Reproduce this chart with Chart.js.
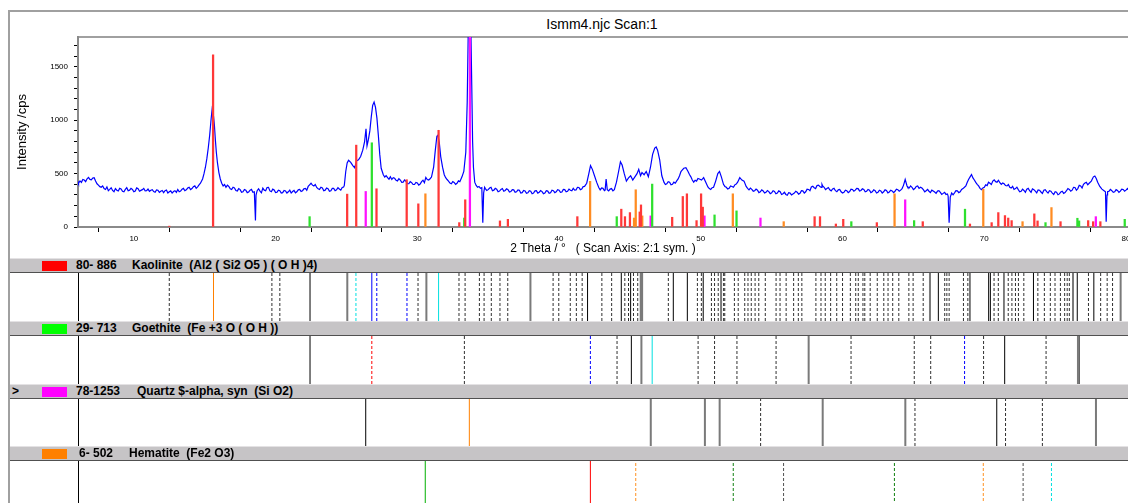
<!DOCTYPE html>
<html>
<head>
<meta charset="utf-8">
<script src="https://cdn.jsdelivr.net/npm/chart.js@4.4.0/dist/chart.umd.min.js"></script>
<style>
body { margin: 0; width: 1128px; height: 503px; overflow: hidden; background: #fff; position: relative; font-family: "Liberation Sans", Arial, sans-serif; }
.abs { position: absolute; }
.hdr { position: absolute; left: 10px; width: 1118px; height: 13px; background: #c6c4c6; border-top: 1px solid #e4e2e4; border-bottom: 1px solid #505050; }
.hdr span { position: absolute; top: 0; font-weight: bold; font-size: 12px; line-height: 13px; white-space: pre; color: #000; }
.hdr .sw { top: 2px; width: 25px; height: 10px; left: 32px; }
.row { position: absolute; left: 10px; width: 1118px; border-bottom: 1px solid #000; }
.vline { position: absolute; left: 68px; top: 0; width: 1px; height: 100%; background: #000; }
.row canvas { position: absolute; left: 68px; top: 0; }
</style>
</head>
<body>

<div class="abs" style="left:8px;top:10px;width:2px;height:493px;background:#a0a0a0"></div>
<div class="abs" style="left:8px;top:10px;width:1120px;height:2px;background:#a0a0a0"></div>
<div class="abs" style="left:78px;top:36px;width:1050px;height:2px;background:#a0a0a0"></div>
<div class="abs" style="left:502px;top:16px;width:200px;text-align:center;font-size:14px;line-height:16px">Ismm4.njc Scan:1</div>
<canvas id="main" class="abs" style="left:10px;top:12px" width="1118" height="246"></canvas>

<div class="hdr" style="top:258px"><span class="sw" style="background:#ff0000"></span><span style="left:66px">80- 886</span><span style="left:122px">Kaolinite  (Al2 ( Si2 O5 ) ( O H )4)</span></div>
<div class="row" style="top:273px;height:48px"><canvas id="p1" width="1050" height="48"></canvas><div class="vline"></div></div>

<div class="hdr" style="top:321px"><span class="sw" style="background:#00ff00"></span><span style="left:66px">29- 713</span><span style="left:122px">Goethite  (Fe +3 O ( O H ))</span></div>
<div class="row" style="top:336px;height:48px"><canvas id="p2" width="1050" height="48"></canvas><div class="vline"></div></div>

<div class="hdr" style="top:384px"><span style="left:2px">&gt;</span><span class="sw" style="background:#ff00ff"></span><span style="left:66px">78-1253</span><span style="left:127px">Quartz $-alpha, syn  (Si O2)</span></div>
<div class="row" style="top:399px;height:47px"><canvas id="p3" width="1050" height="47"></canvas><div class="vline"></div></div>

<div class="hdr" style="top:446px"><span class="sw" style="background:#ff8000"></span><span style="left:69px">6- 502</span><span style="left:119px">Hematite  (Fe2 O3)</span></div>
<div class="row" style="top:461px;height:50px"><canvas id="p4" width="1050" height="50"></canvas><div class="vline"></div></div>

<script>
let thetaMin = 6.06;
let thetaMax = 80.14;

// measured scan, [2theta, cps]
let scanPoints = [
    [6.06,427],[6.1,410],[6.2,432],[6.3,418],[6.4,445],[6.5,440],[6.6,425],[6.7,452],[6.8,465],[6.9,446],
    [7.0,442],[7.1,458],[7.2,462],[7.3,430],[7.4,405],[7.5,392],[7.6,378],[7.7,372],[7.8,385],[7.9,360],
    [8.0,352],[8.1,376],[8.2,340],[8.3,352],[8.4,368],[8.5,342],[8.6,330],[8.7,360],[8.8,345],[8.9,338],
    [9.0,362],[9.1,356],[9.2,335],[9.3,330],[9.4,352],[9.5,368],[9.6,340],[9.7,345],[9.8,362],[9.9,352],
    [10.0,330],[10.1,337],[10.2,366],[10.3,358],[10.4,335],[10.5,343],[10.6,350],[10.7,362],[10.8,338],[10.9,340],
    [11.0,355],[11.1,334],[11.2,345],[11.3,350],[11.4,332],[11.5,326],[11.6,348],[11.7,344],[11.8,325],[11.9,335],
    [12.0,342],[12.1,322],[12.2,340],[12.3,346],[12.4,318],[12.5,330],[12.6,338],[12.7,318],[12.8,332],[12.9,340],
    [13.0,325],[13.1,352],[13.2,330],[13.3,336],[13.4,355],[13.5,362],[13.6,340],[13.7,348],[13.8,365],[13.9,372],
    [14.0,350],[14.1,360],[14.2,378],[14.3,385],[14.4,362],[14.5,376],[14.6,395],[14.7,410],[14.85,450],[14.95,500],
    [15.05,560],[15.15,640],[15.25,740],[15.35,860],[15.45,1010],[15.52,1100],[15.58,1060],[15.62,1040],[15.68,960],[15.75,820],
    [15.82,700],[15.9,600],[16.0,510],[16.1,450],[16.2,410],[16.3,385],[16.4,398],[16.5,372],[16.6,392],[16.7,380],
    [16.8,358],[16.9,352],[17.0,372],[17.1,366],[17.2,342],[17.3,338],[17.4,360],[17.5,350],[17.6,325],[17.7,330],
    [17.8,352],[17.9,345],[18.0,322],[18.1,328],[18.2,345],[18.3,352],[18.4,326],[18.5,330],[18.58,60],[18.62,300],
    [18.7,340],[18.8,358],[18.9,336],[19.0,320],[19.1,364],[19.2,345],[19.3,340],[19.4,370],[19.5,372],[19.6,338],
    [19.7,330],[19.8,355],[19.9,348],[20.0,322],[20.1,326],[20.2,345],[20.3,340],[20.4,318],[20.5,322],[20.6,342],
    [20.7,338],[20.8,318],[20.9,330],[21.0,345],[21.1,318],[21.2,332],[21.3,342],[21.4,320],[21.5,330],[21.6,348],
    [21.7,352],[21.8,332],[21.9,340],[22.0,358],[22.1,362],[22.2,345],[22.3,380],[22.4,395],[22.5,410],[22.6,392],
    [22.7,385],[22.8,398],[22.9,370],[23.0,358],[23.1,352],[23.2,372],[23.3,366],[23.4,340],[23.5,345],[23.6,365],
    [23.7,358],[23.8,335],[23.9,340],[24.0,362],[24.1,362],[24.2,340],[24.3,348],[24.4,368],[24.5,356],[24.6,345],
    [24.7,370],[24.8,375],[24.85,390],[24.95,520],[25.05,600],[25.15,625],[25.3,605],[25.45,575],[25.58,555],[25.72,620],
    [25.85,630],[26.0,660],[26.15,720],[26.28,800],[26.38,920],[26.45,760],[26.55,820],[26.65,900],[26.75,1030],[26.85,1140],
    [26.95,1170],[27.05,1120],[27.15,1020],[27.25,860],[27.35,680],[27.45,550],[27.6,490],[27.7,468],[27.8,480],[27.9,462],
    [28.0,448],[28.1,470],[28.2,445],[28.3,462],[28.4,456],[28.5,438],[28.6,432],[28.7,452],[28.8,440],[28.9,418],
    [29.0,420],[29.1,440],[29.2,428],[29.3,405],[29.4,405],[29.5,425],[29.6,416],[29.7,398],[29.8,398],[29.9,418],
    [30.0,412],[30.1,392],[30.2,402],[30.3,425],[30.4,438],[30.5,415],[30.6,465],[30.7,445],[30.8,440],[30.9,452],
    [31.0,468],[31.15,560],[31.27,720],[31.38,850],[31.45,860],[31.55,790],[31.65,660],[31.78,560],[31.9,490],[32.0,462],
    [32.1,445],[32.2,430],[32.3,412],[32.4,405],[32.5,425],[32.6,418],[32.7,400],[32.8,410],[32.9,432],[33.0,425],
    [33.15,470],[33.28,520],[33.42,700],[33.52,1170],[33.6,1900],[33.68,2200],[33.76,2000],[33.84,1330],[33.9,800],[33.96,560],
    [34.05,420],[34.15,390],[34.25,372],[34.35,380],[34.45,362],[34.55,368],[34.62,40],[34.68,320],[34.75,372],[34.8,360],
    [34.9,342],[35.0,350],[35.1,365],[35.2,372],[35.3,340],[35.4,345],[35.5,362],[35.6,355],[35.7,330],[35.8,336],
    [35.9,352],[36.0,360],[36.1,335],[36.2,342],[36.3,358],[36.4,350],[36.5,328],[36.6,332],[36.7,350],[36.8,348],
    [36.9,325],[37.0,330],[37.1,348],[37.2,345],[37.3,318],[37.4,322],[37.5,342],[37.6,338],[37.7,315],[37.8,320],
    [37.9,340],[38.0,335],[38.1,312],[38.2,318],[38.3,338],[38.4,340],[38.5,318],[38.6,326],[38.7,342],[38.8,332],
    [38.9,312],[39.0,318],[39.1,340],[39.2,336],[39.3,315],[39.4,320],[39.5,345],[39.6,340],[39.7,322],[39.8,330],
    [39.9,350],[40.0,345],[40.1,325],[40.2,328],[40.3,352],[40.4,350],[40.5,330],[40.6,335],[40.7,355],[40.8,344],
    [40.9,340],[41.0,362],[41.1,345],[41.2,348],[41.3,372],[41.4,370],[41.5,350],[41.6,356],[41.7,378],[41.8,380],
    [41.95,410],[42.1,500],[42.22,575],[42.35,540],[42.5,480],[42.65,420],[42.8,370],[42.9,348],[43.0,365],[43.1,362],
    [43.2,340],[43.25,345],[43.32,450],[43.4,350],[43.5,338],[43.6,355],[43.7,360],[43.8,338],[43.9,350],[44.05,420],
    [44.2,520],[44.33,610],[44.45,580],[44.6,500],[44.75,430],[44.9,460],[45.05,480],[45.2,440],[45.35,470],[45.5,500],
    [45.62,540],[45.75,480],[45.85,510],[46.0,490],[46.15,520],[46.3,470],[46.45,560],[46.6,680],[46.75,740],[46.85,750],
    [46.95,720],[47.1,630],[47.25,480],[47.4,420],[47.5,398],[47.6,405],[47.7,425],[47.8,420],[47.9,395],[48.0,400],
    [48.1,420],[48.2,410],[48.3,432],[48.4,450],[48.5,480],[48.6,520],[48.7,535],[48.8,550],[48.95,555],[49.1,520],
    [49.2,492],[49.3,470],[49.4,440],[49.5,420],[49.6,438],[49.7,430],[49.8,455],[49.9,450],[50.05,440],[50.2,462],
    [50.35,420],[50.5,375],[50.6,360],[50.7,352],[50.8,368],[50.9,372],[51.05,430],[51.2,500],[51.32,520],[51.45,470],
    [51.6,400],[51.7,380],[51.8,372],[51.9,355],[52.0,362],[52.1,385],[52.2,380],[52.3,372],[52.4,395],[52.5,402],
    [52.6,420],[52.75,462],[52.9,440],[53.05,430],[53.2,380],[53.3,362],[53.4,348],[53.5,365],[53.6,352],[53.7,335],
    [53.8,340],[53.9,355],[54.0,345],[54.1,322],[54.2,330],[54.3,348],[54.4,338],[54.5,318],[54.6,325],[54.7,342],
    [54.8,332],[54.9,312],[55.0,320],[55.1,340],[55.2,334],[55.3,312],[55.4,318],[55.5,338],[55.6,330],[55.7,305],
    [55.8,312],[55.9,325],[56.0,305],[56.1,298],[56.2,322],[56.3,318],[56.4,300],[56.5,310],[56.6,318],[56.7,335],
    [56.8,326],[56.9,308],[57.0,315],[57.1,340],[57.2,338],[57.3,318],[57.4,330],[57.5,355],[57.6,352],[57.7,340],
    [57.8,375],[57.9,382],[58.0,368],[58.1,360],[58.2,388],[58.3,392],[58.4,380],[58.5,372],[58.55,400],[58.6,385],
    [58.7,372],[58.8,350],[58.9,360],[59.0,370],[59.1,348],[59.2,338],[59.3,356],[59.4,362],[59.5,340],[59.6,330],
    [59.7,348],[59.8,352],[59.9,330],[60.0,318],[60.1,325],[60.2,345],[60.3,340],[60.4,322],[60.5,332],[60.6,355],
    [60.7,352],[60.8,335],[60.9,345],[61.0,362],[61.1,360],[61.2,338],[61.3,342],[61.4,358],[61.5,352],[61.6,330],
    [61.7,335],[61.8,352],[61.9,345],[62.0,322],[62.1,330],[62.2,348],[62.3,340],[62.4,318],[62.5,325],[62.6,345],
    [62.7,338],[62.8,318],[62.9,330],[63.0,348],[63.1,342],[63.2,320],[63.3,328],[63.4,345],[63.5,338],[63.6,322],
    [63.7,335],[63.8,355],[63.9,350],[64.0,335],[64.1,345],[64.2,360],[64.3,390],[64.42,445],[64.55,385],[64.6,372],
    [64.7,365],[64.8,385],[64.9,372],[65.0,350],[65.1,360],[65.2,380],[65.3,385],[65.4,362],[65.5,372],[65.6,365],
    [65.7,350],[65.8,330],[65.9,340],[66.0,352],[66.1,335],[66.2,322],[66.3,345],[66.4,338],[66.5,328],[66.6,315],
    [66.7,336],[66.8,340],[66.9,325],[67.0,305],[67.1,315],[67.2,325],[67.3,305],[67.4,310],[67.45,290],[67.52,40],
    [67.6,280],[67.7,318],[67.8,302],[67.9,320],[68.0,340],[68.1,338],[68.2,322],[68.3,330],[68.4,352],[68.5,360],
    [68.6,372],[68.7,385],[68.8,420],[68.9,448],[69.0,470],[69.1,492],[69.2,460],[69.3,440],[69.4,418],[69.5,400],
    [69.6,385],[69.7,362],[69.8,350],[69.9,365],[70.0,372],[70.1,395],[70.2,388],[70.3,420],[70.4,410],[70.5,398],
    [70.6,430],[70.7,442],[70.8,425],[70.9,420],[71.0,438],[71.1,415],[71.2,400],[71.3,412],[71.4,405],[71.5,388],
    [71.6,385],[71.7,398],[71.8,372],[71.9,365],[72.0,380],[72.1,352],[72.2,360],[72.3,372],[72.4,350],[72.5,330],
    [72.6,335],[72.7,355],[72.8,342],[72.9,325],[73.0,355],[73.1,362],[73.2,340],[73.3,325],[73.4,358],[73.5,350],
    [73.6,336],[73.7,320],[73.8,348],[73.9,345],[74.0,328],[74.1,315],[74.2,345],[74.3,350],[74.4,332],[74.5,318],
    [74.6,340],[74.7,335],[74.8,318],[74.9,305],[75.0,330],[75.1,325],[75.2,302],[75.3,310],[75.4,328],[75.5,335],
    [75.6,315],[75.7,322],[75.8,340],[75.9,360],[76.0,352],[76.1,335],[76.2,345],[76.3,372],[76.4,370],[76.5,345],
    [76.6,360],[76.7,390],[76.8,385],[76.9,365],[77.0,400],[77.1,412],[77.2,418],[77.3,395],[77.4,410],[77.55,430],
    [77.7,470],[77.8,478],[77.9,455],[78.0,420],[78.15,380],[78.3,355],[78.45,340],[78.55,330],[78.6,50],[78.66,300],
    [78.7,330],[78.8,335],[78.9,352],[79.0,340],[79.1,325],[79.2,330],[79.3,350],[79.4,342],[79.5,325],[79.6,336],
    [79.7,355],[79.8,352],[79.9,335],[80.0,345],[80.1,360],[80.14,350]
];

// reference sticks, [2theta, cps]
let kaoliniteSticks = [
    [12.5,8],[15.59,1613],[25.05,308],[25.69,767],[27.12,358],[29.25,443],[30.07,217],[31.5,906],[32.96,41],[33.38,255],
    [35.83,57],[36.39,72],[41.29,97],[44.39,167],[44.65,97],[45.0,135],[45.69,141],[45.78,207],[47.98,91],[48.73,286],
    [49.02,311],[49.7,60],[50.02,311],[50.14,186],[58.03,97],[58.41,97],[59.53,28],[60.05,72],[62.42,41],[65.66,50],
    [68.99,28],[70.52,41],[70.99,135],[71.46,107],[71.69,84],[71.93,60],[73.53,123],[73.76,57],[75.38,50],[77.33,60],
    [77.68,50],[78.19,50]
];
let goethiteSticks = [
    [22.4,97],[26.79,789],[33.31,84],[44.07,97],[46.57,402],[50.97,113],[52.52,151],[60.62,50],[65.05,60],[68.64,167],
    [74.32,41],[76.57,82],[76.69,57],[79.91,72]
];
let quartzSticks = [
    [26.36,333],[33.71,1900],[46.46,104],[50.26,104],[54.21,84],[64.42,255],[77.87,97]
];
let hematiteSticks = [
    [30.57,311],[42.19,428],[45.29,84],[45.41,349],[45.87,104],[52.26,311],[55.85,50],[63.67,311],[69.93,355],[72.7,50],
    [74.74,182]
];

// line positions in the reference panels (2theta)
let kaolRefSolid = [22.43,42.01,44.39,45.05,48.06,49.05,50.17,66.76,68.99,70.31,70.43,71.39,73.47,76.56,77.73];
let kaolRefGray = [25.06,30.64,37.98,45.76,45.86,51.43,66.17,76.26,79.62];
let kaolRefDashed = [12.5,19.74,20.3,30.05,32.94,33.37,34.38,34.71,35.22,35.83,36.38,39.58,39.98,40.79,41.22,41.63,
    43.02,43.71,44.64,44.9,45.25,45.55,47.71,49.76,50.04,50.75,50.97,51.23,51.61,51.69,52.37,52.64,53.1,53.33,53.56,
    53.83,54.09,54.55,55.31,55.59,56.02,56.55,56.88,57.13,58.12,58.48,58.78,59.16,59.59,60.0,60.55,60.93,61.11,61.44,
    61.57,61.95,62.45,62.91,63.21,63.54,63.97,64.68,64.98,65.69,67.21,67.36,67.52,68.53,68.84,70.69,70.99,71.69,71.95,
    72.2,72.41,72.79,73.78,74.24,74.66,74.99,75.37,75.67,75.85,76.0,77.35,78.21,78.67,79.05];
let kaolRefOrange = [15.62];
let kaolRefCyanDashed = [25.67];
let kaolRefBlue = [26.79];
let kaolRefBlueDashed = [27.14,29.27];
let kaolRefCyan = [31.5];

let goeRefSolid = [22.43,45.1,71.44,76.69];
let goeRefGray = [45.81,57.61,76.61];
let goeRefDashed = [33.32,44.09,49.81,50.97,52.55,55.31,60.6,65.06,66.22,69.95,74.36];
let goeRefRedDashed = [26.79];
let goeRefBlueDashed = [42.21,68.61];
let goeRefCyan = [46.57];

let qtzRefSolid = [26.36,70.88];
let qtzRefGray = [46.47,50.29,51.33,58.6,64.43,77.88];
let qtzRefDashed = [54.22,65.11,71.5,74.1];
let qtzRefOrange = [33.67];

let hemRefGreen = [30.56];
let hemRefRed = [42.21];
let hemRefOrangeDashed = [45.41,69.93];
let hemRefDarkGreenDashed = [52.29,63.66];
let hemRefGrayDashed = [55.84,72.74];
let hemRefCyanDashed = [74.74];


function stickSet(points, color) {
    return {
        type: "bar",
        data: points.map(p => ({ x: p[0], y: p[1] })),
        backgroundColor: color,
        barThickness: 1.6,
        grouped: false,
        order: 1
    };
}

function drawMain() {
    let ctx = document.getElementById("main").getContext("2d");

    new Chart(ctx, {
        type: "bar",
        data: {
            datasets: [
                {
                    type: "line",
                    data: scanPoints.map(p => ({ x: p[0], y: p[1] })),
                    borderColor: "#0000ff",
                    borderWidth: 1.2,
                    pointRadius: 0,
                    tension: 0,
                    order: 2
                },
                stickSet(kaoliniteSticks, "#ff3838"),
                stickSet(goethiteSticks, "#2ee02e"),
                stickSet(quartzSticks, "#ff10ff"),
                stickSet(hematiteSticks, "#ff8c22")
            ]
        },
        options: {
            responsive: false,
            animation: false,
            layout: { padding: { top: 25, left: 5, right: 0, bottom: 2 } },
            plugins: { legend: { display: false }, tooltip: { enabled: false } },
            scales: {
                x: {
                    type: "linear",
                    min: thetaMin,
                    max: thetaMax,
                    offset: false,
                    grid: { drawOnChartArea: false, tickLength: 5, tickColor: "#000" },
                    border: { color: "#8a8a8a", width: 2 },
                    ticks: {
                        stepSize: 5, includeBounds: false, autoSkip: false, maxRotation: 0, padding: 2,
                        color: "#000", font: { size: 8 },
                        callback: v => (v % 10 === 0 ? v : "")
                    },
                    title: {
                        display: true, text: "2 Theta / °   ( Scan Axis: 2:1 sym. )",
                        color: "#000", font: { size: 12 }, padding: 0
                    },
                    afterFit: s => { s.height = 29; s.paddingLeft = 0; s.paddingRight = 0; }
                },
                y: {
                    min: 0,
                    max: 1780,
                    grid: { drawOnChartArea: false, tickLength: 4, tickColor: "#000" },
                    border: { color: "#8a8a8a", width: 2 },
                    ticks: {
                        stepSize: 100, includeBounds: false, autoSkip: false, padding: 6,
                        color: "#000", font: { size: 8 },
                        callback: v => (v % 500 === 0 ? v : "")
                    },
                    title: {
                        display: true, text: "Intensity /cps",
                        color: "#000", font: { size: 13 }, padding: 0
                    },
                    afterFit: s => { s.width = 63; }
                }
            }
        }
    });
}


function refLines(positions, color, width, dash) {
    let data = [];
    positions.forEach(v => {
        data.push({ x: v, y: 0 }, { x: v, y: 1 }, { x: v, y: null });
    });
    return {
        data,
        borderColor: color,
        borderWidth: width,
        borderDash: dash || [],
        pointRadius: 0,
        spanGaps: false
    };
}

function drawPanel(id, datasets) {
    let ctx = document.getElementById(id).getContext("2d");

    new Chart(ctx, {
        type: "line",
        data: { datasets },
        options: {
            responsive: false,
            animation: false,
            layout: { padding: 0 },
            plugins: { legend: { display: false }, tooltip: { enabled: false } },
            scales: {
                x: { type: "linear", min: thetaMin, max: thetaMax, display: false },
                y: { min: 0, max: 1, display: false }
            }
        }
    });
}

drawMain();

drawPanel("p1", [
    refLines(kaolRefDashed, "#303030", 1, [3, 2]),
    refLines(kaolRefGray, "#7a7a7a", 2),
    refLines(kaolRefSolid, "#000", 1),
    refLines(kaolRefOrange, "#ff8000", 1),
    refLines(kaolRefCyanDashed, "#00e0e0", 1, [3, 2]),
    refLines(kaolRefBlue, "#0000ff", 1),
    refLines(kaolRefBlueDashed, "#0000ff", 1, [3, 2]),
    refLines(kaolRefCyan, "#00e0e0", 1)
]);

drawPanel("p2", [
    refLines(goeRefDashed, "#303030", 1, [3, 2]),
    refLines(goeRefGray, "#7a7a7a", 2),
    refLines(goeRefSolid, "#000", 1),
    refLines(goeRefRedDashed, "#ff0000", 1, [3, 2]),
    refLines(goeRefBlueDashed, "#0000ff", 1, [3, 2]),
    refLines(goeRefCyan, "#00e0e0", 1)
]);

drawPanel("p3", [
    refLines(qtzRefDashed, "#303030", 1, [3, 2]),
    refLines(qtzRefGray, "#7a7a7a", 2),
    refLines(qtzRefSolid, "#000", 1),
    refLines(qtzRefOrange, "#ff8000", 1)
]);

drawPanel("p4", [
    refLines(hemRefGreen, "#00b000", 1),
    refLines(hemRefRed, "#ff0000", 1),
    refLines(hemRefOrangeDashed, "#ff9020", 1, [3, 2]),
    refLines(hemRefDarkGreenDashed, "#108010", 1, [3, 2]),
    refLines(hemRefGrayDashed, "#505050", 1, [3, 2]),
    refLines(hemRefCyanDashed, "#00e0e0", 1, [3, 2])
]);
</script>
</body>
</html>
